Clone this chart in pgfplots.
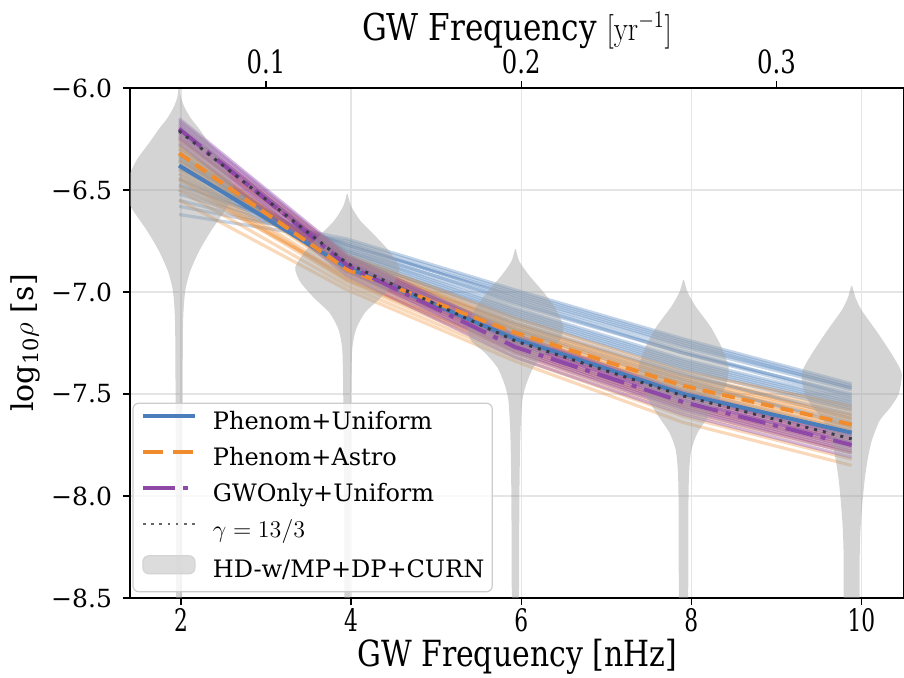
\documentclass[border=0pt]{standalone}
\usepackage[no-math]{fontspec}
\setmainfont{DejaVu Serif}
\usepackage{graphicx}
\usepackage{pgfplots}
\usepackage{pgfplotstable}
\pgfplotsset{compat=1.18}

\definecolor{cblue}{HTML}{4A7DBA}
\definecolor{corange}{HTML}{F08C2E}
\definecolor{cpurple}{HTML}{8E48A8}
\definecolor{cdot}{HTML}{3A3A48}
\definecolor{cviolin}{HTML}{A0A0A0}

\newcommand\hs[2]{\scalebox{#1}[1]{#2}}
\newcommand\bt[1]{\hs{0.7}{#1}}
\newcommand\tpt[1]{\hs{0.76}{#1}}

% posterior sample spectra (log10 rho at the five GW frequencies)
\pgfplotstableread{
f b1 b2 b3 b4 b5 b6 b7 b8 b9 b10 b11 b12 b13 b14 b15 b16 b17 b18 b19 b20
1.977 -6.62 -6.55 -6.50 -6.45 -6.42 -6.38 -6.35 -6.32 -6.30 -6.40 -6.48 -6.36 -6.28 -6.58 -6.44 -6.33 -6.52 -6.47 -6.39 -6.34
3.954 -6.75 -6.76 -6.78 -6.80 -6.82 -6.84 -6.86 -6.86 -6.88 -6.80 -6.77 -6.83 -6.90 -6.74 -6.81 -6.85 -6.77 -6.79 -6.83 -6.87
5.931 -7.00 -7.03 -7.05 -7.08 -7.10 -7.13 -7.16 -7.19 -7.22 -7.06 -7.02 -7.12 -7.24 -6.99 -7.09 -7.15 -7.01 -7.04 -7.11 -7.18
7.908 -7.24 -7.27 -7.30 -7.33 -7.35 -7.38 -7.41 -7.45 -7.48 -7.30 -7.26 -7.37 -7.51 -7.23 -7.34 -7.40 -7.25 -7.29 -7.36 -7.43
9.885 -7.46 -7.48 -7.50 -7.53 -7.55 -7.58 -7.60 -7.64 -7.68 -7.52 -7.47 -7.57 -7.71 -7.45 -7.54 -7.62 -7.47 -7.51 -7.56 -7.66
}\blueS

\pgfplotstableread{
f o1 o2 o3 o4 o5 o6 o7 o8 o9 o10 o11 o12 o13 o14 o15 o16 o17 o18 o19 o20
1.977 -6.22 -6.25 -6.28 -6.30 -6.33 -6.36 -6.40 -6.45 -6.50 -6.55 -6.26 -6.38 -6.48 -6.20 -6.42 -6.32 -6.24 -6.29 -6.35 -6.44
3.954 -6.83 -6.85 -6.87 -6.88 -6.90 -6.91 -6.93 -6.95 -6.97 -6.99 -6.84 -6.89 -6.92 -6.82 -6.94 -6.86 -6.84 -6.87 -6.90 -6.94
5.931 -7.15 -7.18 -7.20 -7.22 -7.24 -7.26 -7.28 -7.30 -7.32 -7.34 -7.16 -7.21 -7.25 -7.13 -7.29 -7.19 -7.17 -7.21 -7.23 -7.27
7.908 -7.41 -7.44 -7.46 -7.49 -7.51 -7.54 -7.56 -7.59 -7.61 -7.64 -7.42 -7.47 -7.52 -7.39 -7.57 -7.45 -7.43 -7.48 -7.50 -7.55
9.885 -7.58 -7.62 -7.65 -7.68 -7.70 -7.73 -7.76 -7.79 -7.82 -7.85 -7.60 -7.66 -7.72 -7.56 -7.78 -7.63 -7.61 -7.67 -7.69 -7.75
}\orangeS

\pgfplotstableread{
f p1 p2 p3 p4 p5 p6 p7 p8 p9 p10 p11 p12
1.977 -6.15 -6.17 -6.19 -6.21 -6.23 -6.25 -6.27 -6.18 -6.22 -6.16 -6.20 -6.24
3.954 -6.82 -6.84 -6.85 -6.87 -6.88 -6.90 -6.92 -6.86 -6.86 -6.83 -6.85 -6.89
5.931 -7.21 -7.23 -7.25 -7.27 -7.28 -7.30 -7.32 -7.26 -7.24 -7.22 -7.25 -7.29
7.908 -7.49 -7.51 -7.53 -7.55 -7.56 -7.58 -7.60 -7.54 -7.52 -7.50 -7.53 -7.57
9.885 -7.70 -7.72 -7.74 -7.76 -7.77 -7.79 -7.81 -7.75 -7.73 -7.71 -7.74 -7.78
}\purpleS

% medians
\pgfplotstableread{
f blue orange purple gamma
1.977 -6.38 -6.32 -6.20 -6.21
3.954 -6.88 -6.89 -6.87 -6.86
5.931 -7.23 -7.20 -7.27 -7.24
7.908 -7.50 -7.46 -7.54 -7.51
9.885 -7.69 -7.65 -7.75 -7.72
}\medians

% violins: y, half width (px at 85 px per nHz), side
\pgfplotstableread{
y w s
-6.00 0.5 1
-6.05 2 1
-6.10 6 1
-6.15 12 1
-6.20 20 1
-6.27 30 1
-6.35 42 1
-6.45 52 1
-6.52 55 1
-6.60 46 1
-6.70 32 1
-6.80 20 1
-6.90 11 1
-7.00 6 1
-7.15 4 1
-7.50 3.5 1
-8.00 3 1
-8.70 2.5 1
-8.70 2.5 -1
-8.00 3 -1
-7.50 3.5 -1
-7.15 4 -1
-7.00 6 -1
-6.90 11 -1
-6.80 20 -1
-6.70 32 -1
-6.60 46 -1
-6.52 55 -1
-6.45 52 -1
-6.35 42 -1
-6.27 30 -1
-6.20 20 -1
-6.15 12 -1
-6.10 6 -1
-6.05 2 -1
-6.00 0.5 -1
}\vone

\pgfplotstableread{
y w s
-6.52 0.5 1
-6.58 4 1
-6.65 13 1
-6.72 27 1
-6.80 42 1
-6.88 52 1
-6.95 47 1
-7.03 33 1
-7.10 18 1
-7.18 9 1
-7.28 5 1
-7.50 4 1
-8.00 3 1
-8.70 2.5 1
-8.70 2.5 -1
-8.00 3 -1
-7.50 4 -1
-7.28 5 -1
-7.18 9 -1
-7.10 18 -1
-7.03 33 -1
-6.95 47 -1
-6.88 52 -1
-6.80 42 -1
-6.72 27 -1
-6.65 13 -1
-6.58 4 -1
-6.52 0.5 -1
}\vtwo

\pgfplotstableread{
y w s
-6.79 0.5 1
-6.85 4 1
-6.92 14 1
-7.00 28 1
-7.08 40 1
-7.17 48 1
-7.24 44 1
-7.30 30 1
-7.37 18 1
-7.45 11 1
-7.53 7 1
-7.70 5 1
-8.00 4 1
-8.70 3 1
-8.70 3 -1
-8.00 4 -1
-7.70 5 -1
-7.53 7 -1
-7.45 11 -1
-7.37 18 -1
-7.30 30 -1
-7.24 44 -1
-7.17 48 -1
-7.08 40 -1
-7.00 28 -1
-6.92 14 -1
-6.85 4 -1
-6.79 0.5 -1
}\vthree

\pgfplotstableread{
y w s
-6.94 0.5 1
-7.00 4 1
-7.07 12 1
-7.17 27 1
-7.27 38 1
-7.37 45 1
-7.45 43 1
-7.53 35 1
-7.61 25 1
-7.69 14 1
-7.77 8 1
-7.85 6 1
-8.00 5 1
-8.70 4 1
-8.70 4 -1
-8.00 5 -1
-7.85 6 -1
-7.77 8 -1
-7.69 14 -1
-7.61 25 -1
-7.53 35 -1
-7.45 43 -1
-7.37 45 -1
-7.27 38 -1
-7.17 27 -1
-7.07 12 -1
-7.00 4 -1
-6.94 0.5 -1
}\vfour

\pgfplotstableread{
y w s
-6.97 0.5 1
-7.03 4 1
-7.09 10 1
-7.20 26 1
-7.32 42 1
-7.40 50 1
-7.50 47 1
-7.57 38 1
-7.63 28 1
-7.73 20 1
-7.82 16 1
-7.92 13 1
-8.02 11 1
-8.15 9 1
-8.30 8 1
-8.70 7 1
-8.70 7 -1
-8.30 8 -1
-8.15 9 -1
-8.02 11 -1
-7.92 13 -1
-7.82 16 -1
-7.73 20 -1
-7.63 28 -1
-7.57 38 -1
-7.50 47 -1
-7.40 50 -1
-7.32 42 -1
-7.20 26 -1
-7.09 10 -1
-7.03 4 -1
-6.97 0.5 -1
}\vfive

\begin{document}
\begin{tikzpicture}
\begin{axis}[
  at={(0,0)}, anchor=south west,
  scale only axis, width=387pt, height=255pt,
  xmin=1.4, xmax=10.5, ymin=-8.5, ymax=-6,
  xtick={2,4,6,8,10},
  xticklabels={\bt{2},\bt{4},\bt{6},\bt{8},\bt{10}},
  ytick={-8.5,-8,-7.5,-7,-6.5,-6},
  yticklabels={−8.5,−8.0,−7.5,−7.0,−6.5,−6.0},
  tick pos=left,
  tick align=outside, major tick length=3.5pt,
  tick style={black, line width=0.7pt},
  axis line style={line width=0.7pt},
  grid=major, grid style={black!10, line width=0.7pt},
  xticklabel style={font=\fontsize{15.5}{17}\selectfont, yshift=2pt},
  yticklabel style={font=\fontsize{12.5}{15}\selectfont, xshift=-2pt},
  xlabel={\hs{0.83}{GW Frequency [nHz]}},
  xlabel style={font=\fontsize{18}{20}\selectfont, at={(axis description cs:0.5,-0.134)}, anchor=base},
  ylabel={log\textsubscript{10}$\rho$ [s]},
  ylabel style={font=\fontsize{15}{18}\selectfont, at={(axis description cs:-0.1357,0.5)}, anchor=center},
  legend cell align=left,
  legend style={at={(0.003,0.011)}, anchor=south west, draw=black!20, line width=0.6pt,
    rounded corners=3pt, fill=white, fill opacity=0.8, text opacity=1, draw opacity=1,
    font=\fontsize{12}{14}\selectfont, inner xsep=4pt, inner ysep=4pt,
    row sep=6pt, column sep=8pt,
    nodes={inner sep=0pt, text height=9pt, text depth=3pt}},
  legend image code/.code={\draw[#1] (0pt,3.5pt) -- (26pt,3.5pt);},
]
% posterior samples
\pgfplotsinvokeforeach{b1,b2,b3,b4,b5,b6,b7,b8,b9,b10,b11,b12,b13,b14,b15,b16,b17,b18,b19,b20}{
  \addplot[cblue, opacity=0.33, line width=1.6pt, forget plot] table[x=f, y=#1]{\blueS};
}
\pgfplotsinvokeforeach{o1,o2,o3,o4,o5,o6,o7,o8,o9,o10,o11,o12,o13,o14,o15,o16,o17,o18,o19,o20}{
  \addplot[corange, opacity=0.33, line width=1.6pt, forget plot] table[x=f, y=#1]{\orangeS};
}
\pgfplotsinvokeforeach{p1,p2,p3,p4,p5,p6,p7,p8,p9,p10,p11,p12}{
  \addplot[cpurple, opacity=0.38, line width=1.6pt, forget plot] table[x=f, y=#1]{\purpleS};
}
% violins
\addplot[draw=none, fill=cviolin, fill opacity=0.45, forget plot, smooth, tension=0.4]
  table[x expr=1.977+\thisrow{s}*\thisrow{w}/85, y=y]{\vone};
\addplot[draw=none, fill=cviolin, fill opacity=0.45, forget plot, smooth, tension=0.4]
  table[x expr=3.954+\thisrow{s}*\thisrow{w}/85, y=y]{\vtwo};
\addplot[draw=none, fill=cviolin, fill opacity=0.45, forget plot, smooth, tension=0.4]
  table[x expr=5.931+\thisrow{s}*\thisrow{w}/85, y=y]{\vthree};
\addplot[draw=none, fill=cviolin, fill opacity=0.45, forget plot, smooth, tension=0.4]
  table[x expr=7.908+\thisrow{s}*\thisrow{w}/85, y=y]{\vfour};
\addplot[draw=none, fill=cviolin, fill opacity=0.45, forget plot, smooth, tension=0.4]
  table[x expr=9.885+\thisrow{s}*\thisrow{w}/85, y=y]{\vfive};
% medians
\addplot[cblue, line width=2pt, forget plot] table[x=f, y=blue]{\medians};
\addplot[corange, line width=2pt, dash pattern=on 6.5pt off 3.5pt, forget plot] table[x=f, y=orange]{\medians};
\addplot[cpurple, line width=2pt, dash pattern=on 14pt off 4pt on 2.5pt off 4pt, forget plot] table[x=f, y=purple]{\medians};
\addplot[cdot, line width=1.5pt, dash pattern=on 1.5pt off 3pt, forget plot] table[x=f, y=gamma]{\medians};
% legend
\addlegendimage{cblue, line width=2pt}
\addlegendentry{Phenom+Uniform}
\addlegendimage{corange, line width=2pt, dash pattern=on 10pt off 5pt}
\addlegendentry{Phenom+Astro}
\addlegendimage{cpurple, line width=2pt, dash pattern=on 16pt off 4pt on 2.5pt off 4pt}
\addlegendentry{GWOnly+Uniform}
\addlegendimage{black!60, line width=1.3pt, dash pattern=on 1.3pt off 2.8pt}
\addlegendentry{$\gamma=13/3$}
\addlegendimage{legend image code/.code={\fill[black!17] (0pt,-1pt) rectangle (26pt,8pt);}}
\addlegendentry{HD-w/MP+DP+CURN}
\end{axis}
\begin{axis}[
  at={(0,0)}, anchor=south west,
  scale only axis, width=387pt, height=255pt,
  xmin=1.4, xmax=10.5, ymin=-8.5, ymax=-6,
  axis x line*=top, axis y line=none,
  xtick={3,6,9},
  xticklabels={\tpt{0.1},\tpt{0.2},\tpt{0.3}},
  tick align=outside, major tick length=3.5pt,
  tick style={black, line width=0.7pt},
  axis line style={line width=0.7pt},
  xticklabel style={font=\fontsize{16}{18}\selectfont},
  xlabel={\hs{0.84}{GW Frequency $[\mathrm{yr}^{-1}]$}},
  xlabel style={font=\fontsize{18.5}{20}\selectfont, at={(axis description cs:0.5,1.094)}, anchor=base},
]
\addplot[draw=none, forget plot] coordinates {(2,-7)};
\end{axis}
\pgfresetboundingbox
\path[use as bounding box] (-65pt,-40pt) rectangle (387pt,299pt);
\end{tikzpicture}
\end{document}
